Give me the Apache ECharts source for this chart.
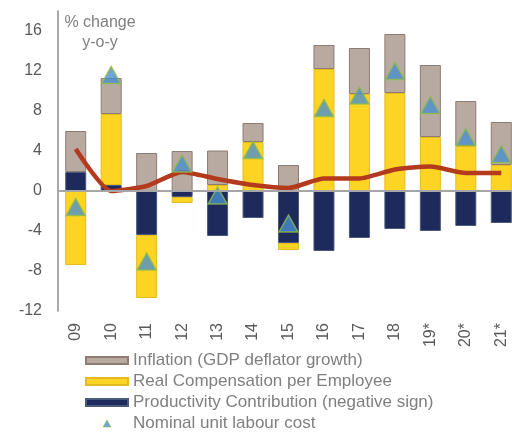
<!DOCTYPE html>
<html>
<head>
<meta charset="utf-8">
<script src="https://cdn.jsdelivr.net/npm/echarts@6/dist/echarts.min.js"></script>
<style>
  html, body { margin: 0; padding: 0; background: #fff; overflow: hidden; }
  /* a bit wider than the window: the original plot is cut off at the right */
  #chart { width: 519px; height: 434px; }
</style>
</head>
<body>
<div id="chart"></div>
<script>
const categories = ["09", "10", "11", "12", "13", "14", "15", "16", "17", "18", "19*", "20*", "21*"];
const productivity = [1.9, 0.6, -4.4, -0.6, -4.5, -2.7, -5.2, -6.0, -4.7, -3.8, -4.0, -3.5, -3.2];
const realComp = [-7.4, 7.1, -6.3, -0.6, 0.6, 4.9, -0.7, 12.2, 9.7, 9.8, 5.4, 4.5, 2.6];
const inflation = [4.1, 3.6, 3.8, 4.0, 3.45, 1.9, 2.6, 2.4, 4.6, 5.9, 7.2, 4.5, 4.3];
const nulc = [-1.6, 11.6, -7.05, 2.75, -0.45, 4.1, -3.25, 8.3, 9.55, 12.0, 8.6, 5.4, 3.7];
const redLine = [4.2, 0.0, 0.5, 1.9, 1.2, 0.6, 0.3, 1.25, 1.25, 2.15, 2.45, 1.8, 1.8];
const yTicks = { min: -12, max: 18, interval: 4 };

const chart = echarts.init(document.getElementById("chart"));
const font = "Liberation Sans, Arial, sans-serif";

// unit label in the top-left corner, two centred lines
const titleStyle = { fontSize: 16, fill: "#7f7f7f", fontFamily: font, textAlign: "center", textVerticalAlign: "middle" };

const option = {
    animation: false,
    textStyle: { fontFamily: font },
    grid: { left: 58, right: 0, top: 11, bottom: 123 },
    graphic: [
        { type: "text", x: 100, y: 23, style: Object.assign({ text: "% change" }, titleStyle) },
        { type: "text", x: 100, y: 43, style: Object.assign({ text: "y-o-y" }, titleStyle) },
    ],
    legend: {
        orient: "vertical",
        left: 85,
        top: 352,
        padding: 0,
        itemWidth: 42,
        itemHeight: 7,
        itemGap: 4,
        textStyle: { fontSize: 17, color: "#7f7f7f", fontFamily: font },
        data: [
            { name: "Inflation (GDP deflator growth)", icon: "rect" },
            { name: "Real Compensation per Employee", icon: "rect" },
            { name: "Productivity Contribution (negative sign)", icon: "rect" },
            { name: "Nominal unit labour cost", icon: "path://M5,0 L10,9 L0,9 Z", itemStyle: { borderWidth: 0.8 } },
        ],
    },
    xAxis: {
        type: "category",
        data: categories,
        axisLine: { show: false, onZero: false },
        axisTick: { show: false },
        axisLabel: { rotate: 90, margin: 12, fontSize: 16, color: "#595959" },
    },
    yAxis: {
        type: "value",
        min: yTicks.min,
        max: yTicks.max,
        interval: yTicks.interval,
        axisLine: { show: true, lineStyle: { color: "#8c8c8c", width: 1.5 } },
        axisTick: { show: false },
        splitLine: { show: false },
        axisLabel: { showMaxLabel: false, margin: 16, fontSize: 16, color: "#595959", padding: [3, 0, 0, 0] },
    },
    series: [
        {
            name: "Productivity Contribution (negative sign)",
            type: "bar",
            stack: "ulc",
            barWidth: 21,
            data: productivity,
            itemStyle: { color: "#1f2a5c", borderColor: "#4b5a7a", borderWidth: 1 },
        },
        {
            name: "Real Compensation per Employee",
            type: "bar",
            stack: "ulc",
            data: realComp,
            itemStyle: { color: "#fdd424", borderColor: "#e3bb1e", borderWidth: 1 },
        },
        {
            name: "Inflation (GDP deflator growth)",
            type: "bar",
            stack: "ulc",
            data: inflation,
            itemStyle: { color: "#b8aaa1", borderColor: "#8e7b72", borderWidth: 1 },
            markLine: {
                silent: true,
                symbol: "none",
                label: { show: false },
                lineStyle: { color: "#a6a6a6", width: 2, type: "solid" },
                data: [{ yAxis: 0 }],
            },
        },
        {
            name: "line",
            type: "line",
            data: redLine,
            smooth: 0.2,
            symbol: "none",
            lineStyle: { color: "#b33a1c", width: 4.5 },
            z: 3,
        },
        {
            name: "Nominal unit labour cost",
            type: "scatter",
            data: nulc,
            symbol: "triangle",
            symbolSize: [19, 17],
            itemStyle: { color: "#4a8fd0", borderColor: "#8cbc4a", borderWidth: 1.5 },
            z: 4,
        },
    ],
};

chart.setOption(option);
</script>
</body>
</html>
